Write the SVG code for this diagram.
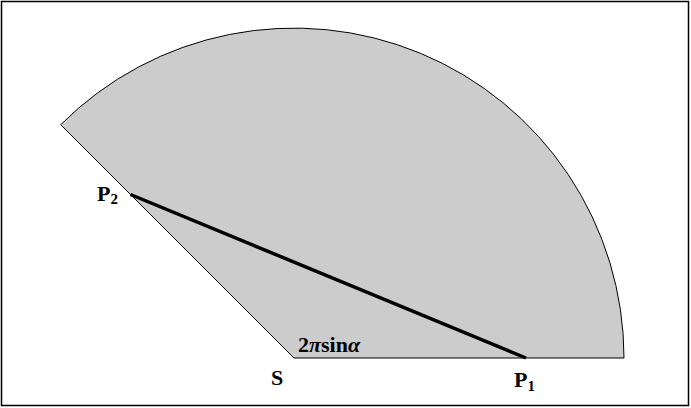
<svg xmlns="http://www.w3.org/2000/svg" width="691" height="408" viewBox="0 0 691 408">
<style>
.lbl{font-family:"Liberation Serif","Times New Roman",serif;font-weight:bold;font-size:22px;fill:#000}
.it{font-style:italic}
.sub{font-size:15px}
</style>
<rect x="0" y="0" width="691" height="408" fill="#fff"/>
<rect id="frame" x="1.5" y="1.5" width="687" height="404" fill="none" stroke="#000" stroke-width="1.5"/>
<g id="sector">
<path d="M294 358 L60.7 124.7 A330 330 0 0 1 624 358 Z" fill="#cccccc" stroke="#000" stroke-width="1"/>
</g>
<g id="connectors">
<line x1="130.5" y1="194.5" x2="526" y2="358" stroke="#000" stroke-width="3.5"/>
</g>
<g id="label-S"><text class="lbl" x="271" y="385">S</text></g>
<g id="label-P1"><text class="lbl" x="514" y="387">P<tspan class="sub" dy="4">1</tspan></text></g>
<g id="label-P2"><text class="lbl" x="97" y="201">P<tspan class="sub" dy="3">2</tspan></text></g>
<g id="label-angle"><text class="lbl" x="298" y="352">2<tspan class="it">π</tspan>sin<tspan class="it">α</tspan></text></g>
</svg>
